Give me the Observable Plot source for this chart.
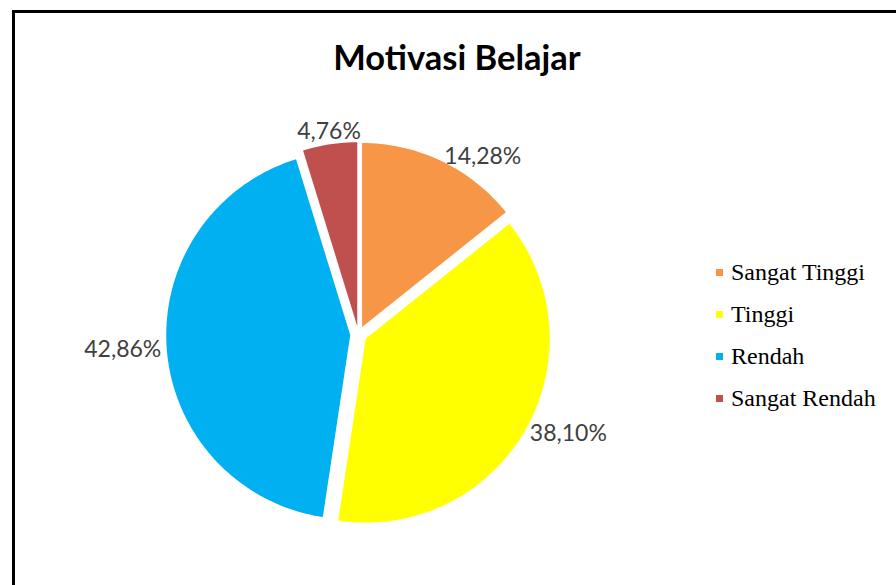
<!DOCTYPE html>
<html>
<head>
<meta charset="utf-8">
<script src="https://cdn.jsdelivr.net/npm/d3@7"></script>
<script src="https://cdn.jsdelivr.net/npm/@observablehq/plot@0.6"></script>
<style>
  html, body { margin: 0; padding: 0; width: 896px; height: 585px; overflow: hidden; background: #fff; }
  #frame { position: absolute; left: 12px; top: 10px; width: 1000px; height: 700px; border: 3px solid #000; box-sizing: border-box; }
  #title { position: absolute; left: 0; top: 37px; width: 914px; text-align: center; font: bold 34.5px Lato, "Open Sans", sans-serif; line-height: 40px; color: #000; }
  #chart { position: absolute; left: 0; top: 0; }
  #legend { position: absolute; left: 716px; top: 251px; }
  .lg-swatches { font: 24px "Liberation Serif", serif !important; color: #000 !important; margin: 0 !important; }
  .lg-swatch { height: 42px !important; display: flex !important; align-items: center !important; padding: 0 !important; margin: 0 !important; }
  .lg-swatch > svg { margin-right: 8px !important; }
</style>
</head>
<body>
<div id="frame"></div>
<div id="title">Motivasi Belajar</div>
<div id="chart"></div>
<div id="legend"></div>
<script>
const categories = ["Sangat Tinggi", "Tinggi", "Rendah", "Sangat Rendah"];
const values = [14.28, 38.10, 42.86, 4.76];
const colors = ["#F79646", "#FFFF00", "#00B0F0", "#C0504D"];

const explode = 0.045;   // radial offset of each slice (in radius units)
const labelGap = 0.03;   // distance of label anchor beyond slice edge

const total = d3.sum(values);
const slices = [];
let acc = 0;
categories.forEach((name, i) => {
  const a0 = acc / total * 2 * Math.PI;
  acc += values[i];
  const a1 = acc / total * 2 * Math.PI;
  slices.push({name, value: values[i], a0, a1, mid: (a0 + a1) / 2});
});

// polygon outline for each slice (sampled arc geometry)
const pts = [];
for (const s of slices) {
  const ox = explode * Math.sin(s.mid), oy = explode * Math.cos(s.mid);
  pts.push({name: s.name, x: ox, y: oy});
  const n = Math.max(4, Math.ceil((s.a1 - s.a0) / (2 * Math.PI) * 240));
  for (let k = 0; k <= n; k++) {
    const t = s.a0 + (s.a1 - s.a0) * k / n;
    pts.push({name: s.name, x: ox + Math.sin(t), y: oy + Math.cos(t)});
  }
}

const labels = slices.map(s => {
  const r = 1 + explode + labelGap;
  const sx = Math.sin(s.mid), cy = Math.cos(s.mid);
  let anchor = Math.abs(sx) < 0.3 ? "middle" : (sx > 0 ? "start" : "end");
  let line = anchor === "middle" ? (cy > 0 ? "bottom" : "top") : "middle";
  return {x: r * sx, y: r * cy, text: s.value.toFixed(2).replace(".", ",") + "%", anchor, line};
});

const textOpts = {x: "x", y: "y", text: "text", fill: "#404040", fontSize: 23, fontFamily: "Lato, 'Open Sans', sans-serif"};

const colorScale = {domain: categories, range: colors};

const plot = Plot.plot({
  width: 896,
  height: 585,
  margin: 0,
  x: {domain: [-1, 1], range: [174, 542], axis: null},
  y: {domain: [-1, 1], range: [518, 150], axis: null},
  color: colorScale,
  style: {background: "transparent", overflow: "visible"},
  marks: [
    Plot.line(pts, {x: "x", y: "y", z: "name", fill: "name", stroke: "none", curve: "linear-closed"}),
    Plot.text(labels.filter(d => d.anchor === "start"), {...textOpts, textAnchor: "start", lineAnchor: "middle"}),
    Plot.text(labels.filter(d => d.anchor === "end"), {...textOpts, textAnchor: "end", lineAnchor: "middle"}),
    Plot.text(labels.filter(d => d.anchor === "middle" && d.line === "bottom"), {...textOpts, textAnchor: "middle", lineAnchor: "bottom"}),
    Plot.text(labels.filter(d => d.anchor === "middle" && d.line === "top"), {...textOpts, textAnchor: "middle", lineAnchor: "top"})
  ]
});
document.getElementById("chart").appendChild(plot);

const legend = Plot.legend({
  color: colorScale,
  legend: "swatches",
  columns: 1,
  swatchSize: 7,
  className: "lg"
});
document.getElementById("legend").appendChild(legend);
</script>
</body>
</html>
